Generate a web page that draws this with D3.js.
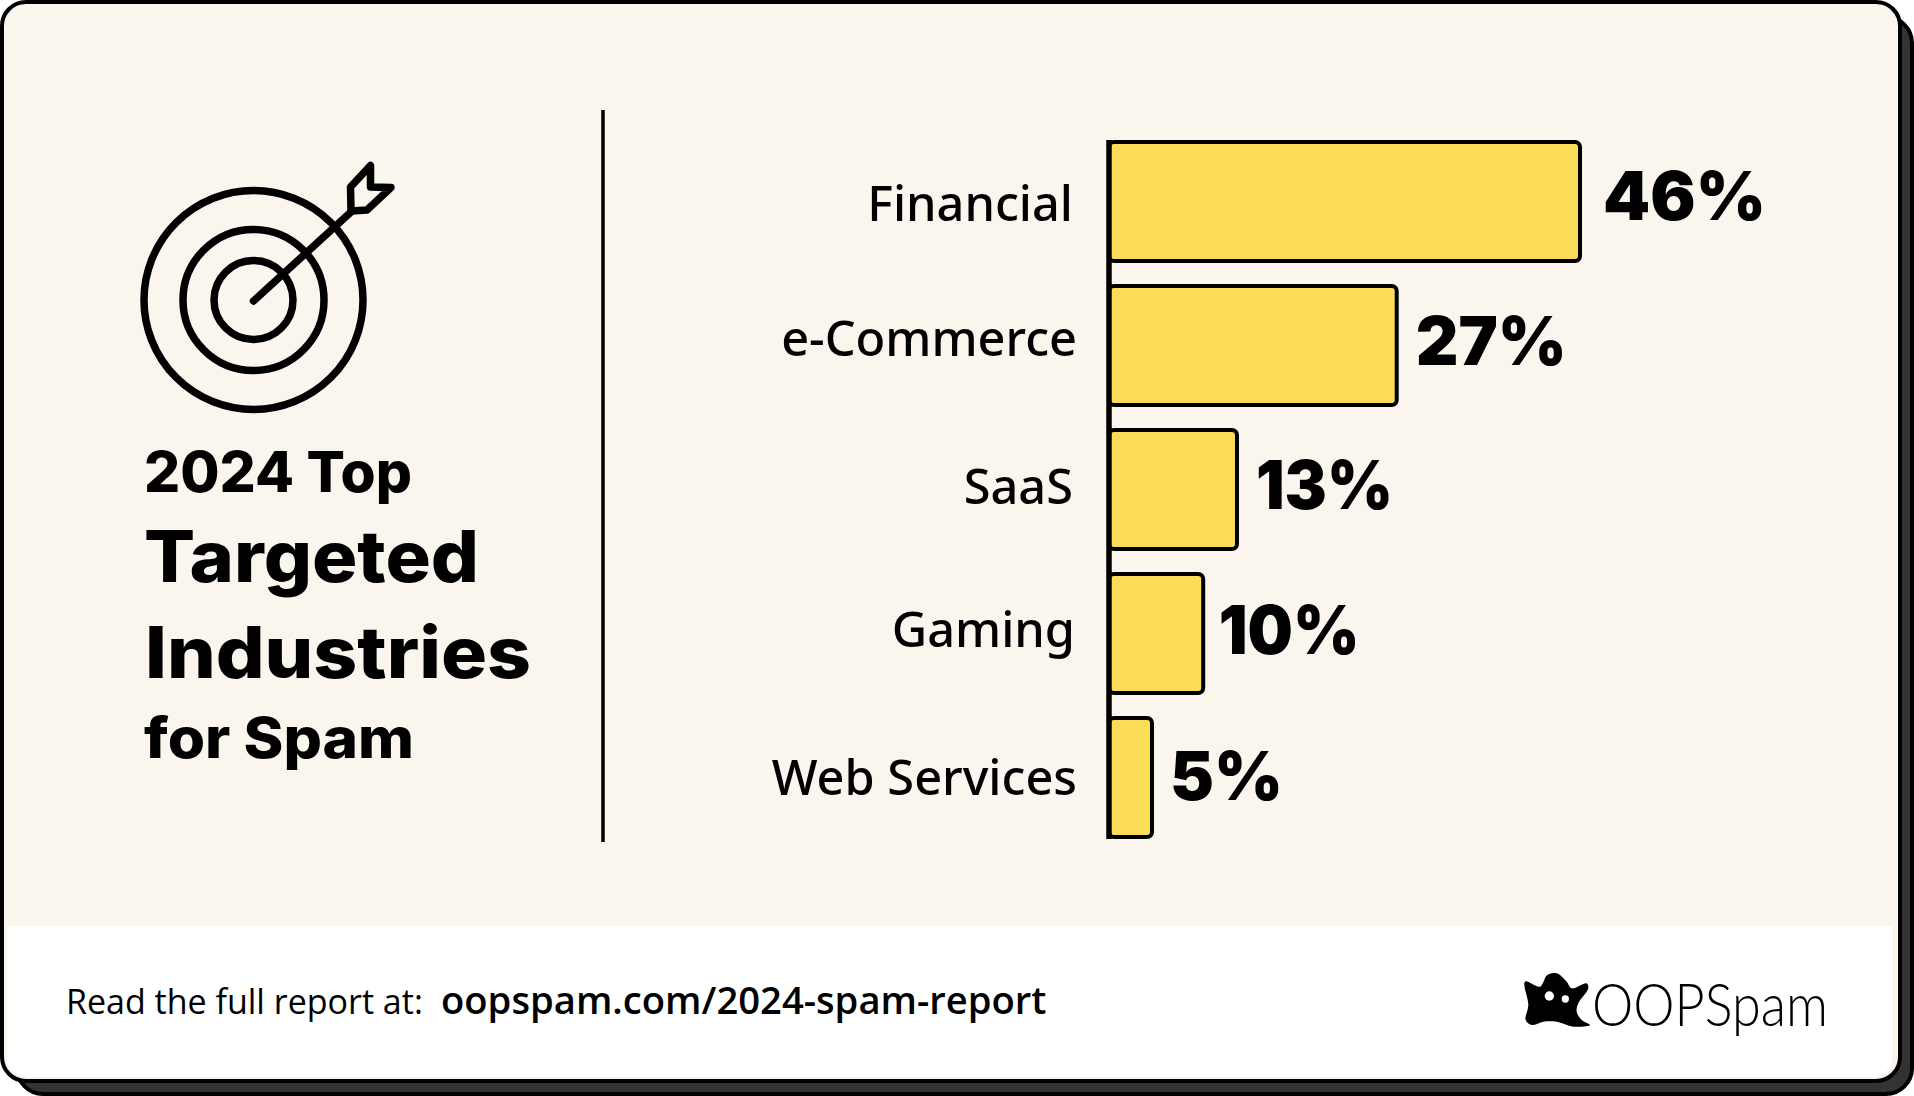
<!DOCTYPE html>
<html>
<head>
<meta charset="utf-8">
<script src="https://cdn.jsdelivr.net/npm/d3@7"></script>
<style>
  html, body { margin: 0; padding: 0; background: #fff; }
  svg { display: block; }
</style>
</head>
<body>
<div id="chart"></div>
<script>
const width = 1914;
const height = 1096;

// data
const categories = ["Financial", "e-Commerce", "SaaS", "Gaming", "Web Services"];
const valueLabels = ["46%", "27%", "13%", "10%", "5%"];
// bar lengths as drawn in the picture, they are not strictly to scale with the printed labels
const barLengths = [46, 28.1, 12.5, 9.2, 4.2];
const titleLines = ["2024 Top", "Targeted", "Industries", "for Spam"];

// small nudges, the labels in the original do not sit exactly on the band centres
const labelEnds = [1073, 1077, 1073, 1075, 1077];
const labelDy = [20, 11, 15, 14, 18];
const valueDx = [23, 19, 19, 15.5, 18];
const valueDy = [19, 20, 20, 21, 23];
const valueWidths = [163, 151, 137, 141, 113];
const titleBaselines = [492, 582, 678, 758];
const titleSizes = [56, 71, 71, 56];
const titleWidths = [268, 335, 386, 270];

const ink = "#000";
const cream = "#faf6ee";
const yellow = "#fbdd58";

const svg = d3.select("#chart").append("svg")
    .attr("width", width)
    .attr("height", height);

// shadow + card
svg.append("rect")
    .attr("x", 17).attr("y", 17)
    .attr("width", 1895).attr("height", 1077)
    .attr("rx", 26)
    .attr("fill", "#333")
    .attr("stroke", ink)
    .attr("stroke-width", 4);

svg.append("rect")
    .attr("x", 2).attr("y", 2)
    .attr("width", 1898).attr("height", 1079)
    .attr("rx", 24)
    .attr("fill", cream)
    .attr("stroke", ink)
    .attr("stroke-width", 4);

// white footer, rounded only at the bottom
svg.append("path")
    .attr("d", "M7,926H1892V1057a20,20 0 0 1 -20,20H27a20,20 0 0 1 -20,-20Z")
    .attr("fill", "#fff");

// target icon
const icon = svg.append("g")
    .attr("fill", "none")
    .attr("stroke", ink)
    .attr("stroke-width", 7.5)
    .attr("stroke-linecap", "round")
    .attr("stroke-linejoin", "round");

[109.5, 70.5, 39.5].forEach(r => {
    icon.append("circle").attr("cx", 253.5).attr("cy", 300).attr("r", r);
});

icon.append("path").attr("d", "M253.5,301L351,212");
icon.append("path").attr("d", "M351,211L350.5,187L370.5,165.5L370.5,187L391,187.5L367,210Z");

// title
const title = svg.append("g")
    .attr("font-family", "Inter, sans-serif")
    .attr("font-weight", 800)
    .attr("fill", ink);

titleLines.forEach((line, i) => {
    title.append("text")
        .attr("x", i === 2 ? 145 : 144)
        .attr("y", titleBaselines[i])
        .attr("font-size", titleSizes[i])
        .attr("textLength", titleWidths[i])
        .attr("lengthAdjust", "spacingAndGlyphs")
        .text(line);
});

// divider
svg.append("line")
    .attr("x1", 603).attr("x2", 603)
    .attr("y1", 110).attr("y2", 842)
    .attr("stroke", ink)
    .attr("stroke-width", 3.5);

// bars
const x = d3.scaleLinear()
    .domain([0, 46])
    .range([1109, 1580]);

const y = d3.scaleBand()
    .domain(categories)
    .range([129, 849])
    .paddingInner(22 / 144)
    .paddingOuter(11 / 144);

svg.append("g")
    .selectAll("rect")
    .data(categories)
    .enter()
    .append("rect")
    .attr("x", x(0))
    .attr("y", d => y(d) + 2)
    .attr("width", (d, i) => x(barLengths[i]) - x(0))
    .attr("height", y.bandwidth() - 3)
    .attr("rx", 5)
    .attr("fill", yellow)
    .attr("stroke", ink)
    .attr("stroke-width", 4);

// axis line on top of the bars
svg.append("line")
    .attr("x1", x(0)).attr("x2", x(0))
    .attr("y1", 140).attr("y2", 839)
    .attr("stroke", ink)
    .attr("stroke-width", 5.5);

svg.append("g")
    .selectAll("text")
    .data(categories)
    .enter()
    .append("text")
    .attr("x", (d, i) => labelEnds[i])
    .attr("y", (d, i) => y(d) + y.bandwidth() / 2 + labelDy[i])
    .attr("text-anchor", "end")
    .attr("font-family", "'Noto Sans', sans-serif")
    .attr("font-weight", 500)
    .attr("font-size", 48.7)
    .attr("fill", ink)
    .text(d => d);

svg.append("g")
    .selectAll("text")
    .data(categories)
    .enter()
    .append("text")
    .attr("x", (d, i) => x(barLengths[i]) + valueDx[i])
    .attr("y", (d, i) => y(d) + y.bandwidth() / 2 + valueDy[i])
    .attr("font-family", "Inter, sans-serif")
    .attr("font-weight", 900)
    .attr("font-size", 67)
    .attr("textLength", (d, i) => valueWidths[i])
    .attr("lengthAdjust", "spacingAndGlyphs")
    .attr("fill", ink)
    .text((d, i) => valueLabels[i]);

// footer text
svg.append("text")
    .attr("x", 66).attr("y", 1014)
    .attr("font-family", "'Open Sans', sans-serif")
    .attr("font-size", 34)
    .attr("fill", ink)
    .text("Read the full report at:");

svg.append("text")
    .attr("x", 441).attr("y", 1014)
    .attr("font-family", "'Open Sans', sans-serif")
    .attr("font-weight", 600)
    .attr("font-size", 38.2)
    .attr("fill", ink)
    .text("oopspam.com/2024-spam-report");

// logo
const ghost = svg.append("g").attr("transform", "translate(1460,940) scale(0.3333)");
const outline = [[195,125],[240,140],[262,105],[290,100],[320,125],[335,145],[380,130],[385,145],[355,190],[350,215],[365,240],[390,255],[340,260],[290,245],[250,245],[215,255],[197,240],[205,195]];

ghost.append("path")
    .attr("d", d3.line().curve(d3.curveCatmullRomClosed.alpha(0.5))(outline))
    .attr("fill", ink);
ghost.append("circle").attr("cx", 268).attr("cy", 168).attr("r", 14).attr("fill", "#fff");
ghost.append("circle").attr("cx", 316).attr("cy", 177).attr("r", 11).attr("fill", "#fff");

svg.append("text")
    .attr("x", 1592).attr("y", 1026)
    .attr("font-family", "Lato, sans-serif")
    .attr("font-weight", 300)
    .attr("font-size", 60)
    .attr("textLength", 236)
    .attr("lengthAdjust", "spacingAndGlyphs")
    .attr("fill", ink)
    .text("OOPSpam");
</script>
</body>
</html>
